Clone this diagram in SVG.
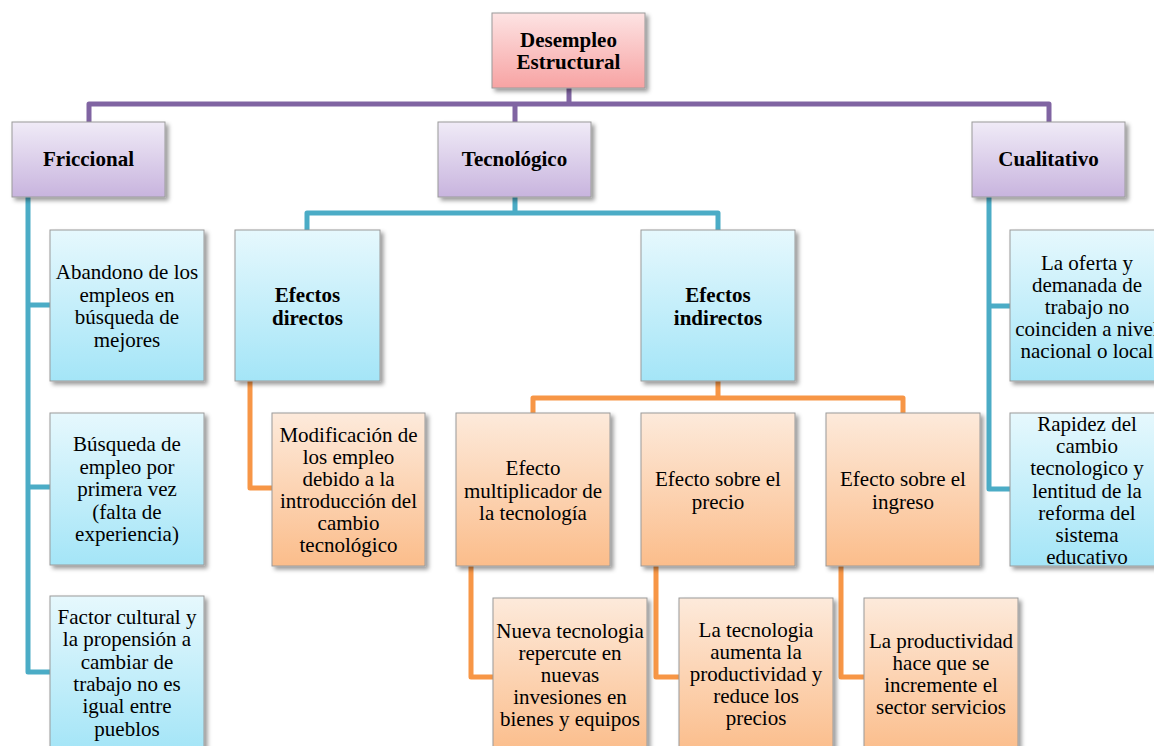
<svg xmlns="http://www.w3.org/2000/svg" width="1154" height="746" viewBox="0 0 1154 746">
<defs>
<linearGradient id="gPink" x1="0" y1="0" x2="0" y2="1"><stop offset="0" stop-color="#fde3e3"/><stop offset="1" stop-color="#f7a3a3"/></linearGradient>
<linearGradient id="gPurple" x1="0" y1="0" x2="0" y2="1"><stop offset="0" stop-color="#f0ebf7"/><stop offset="1" stop-color="#c8b4de"/></linearGradient>
<linearGradient id="gBlue" x1="0" y1="0" x2="0" y2="1"><stop offset="0" stop-color="#e6f8fd"/><stop offset="1" stop-color="#a4e5f7"/></linearGradient>
<linearGradient id="gOrange" x1="0" y1="0" x2="0" y2="1"><stop offset="0" stop-color="#fdeadb"/><stop offset="1" stop-color="#fbbd8b"/></linearGradient>
<filter id="sh" x="-10%" y="-10%" width="125%" height="125%"><feDropShadow dx="3" dy="3" stdDeviation="2" flood-color="#000" flood-opacity="0.4"/></filter>
</defs>
<style>
.box{stroke:#9a9a9a;stroke-width:1;filter:url(#sh)}
.pink{fill:url(#gPink)}.purple{fill:url(#gPurple)}.blue{fill:url(#gBlue)}.orange{fill:url(#gOrange)}
.c{fill:none;stroke-width:5;stroke-linejoin:round;stroke-linecap:butt}
.cp{stroke:#8064a2}.cb{stroke:#4bacc6}.co{stroke:#f79646}
text{font-family:"Liberation Serif","Times New Roman",serif;font-size:21px;fill:#000;text-anchor:middle}
.b{font-weight:bold}
</style>
<g id="connectors">
<path class="c cp" d="M569,88 V104 M89,122 V104 H1049 V122 M515,104 V122"/>
<path class="c cb" d="M515,197 V213 M307,230 V213 H718 V230"/>
<path class="c cb" d="M28,197 V672 H50 M28,305 H50 M28,487 H50"/>
<path class="c cb" d="M989,197 V489 H1010 M989,306 H1010"/>
<path class="c co" d="M250,381 V488 H272"/>
<path class="c co" d="M718,381 V398 M533,413 V398 H903 V413"/>
<path class="c co" d="M471,566 V677 H493 M656,566 V677 H679 M841,566 V677 H864"/>
</g>
<g id="root"><rect class="box pink" x="492" y="13" width="153" height="75"/><text class="b" x="568.5" y="47">Desempleo</text><text class="b" x="568.5" y="69">Estructural</text></g>
<g id="friccional"><rect class="box purple" x="12" y="122" width="153" height="75"/><text class="b" x="88.5" y="166">Friccional</text></g>
<g id="tecnologico"><rect class="box purple" x="438" y="122" width="153" height="75"/><text class="b" x="514.5" y="166">Tecnológico</text></g>
<g id="cualitativo"><rect class="box purple" x="972" y="122" width="153" height="75"/><text class="b" x="1048.5" y="166">Cualitativo</text></g>
<g id="abandono"><rect class="box blue" x="50" y="230" width="154" height="151"/><text x="127" y="279"><tspan x="127">Abandono de los</tspan><tspan x="127" dy="22.5">empleos en</tspan><tspan x="127" dy="22.5">búsqueda de</tspan><tspan x="127" dy="22.5">mejores</tspan></text></g>
<g id="busqueda"><rect class="box blue" x="50" y="413" width="154" height="152"/><text x="127" y="451"><tspan x="127">Búsqueda de</tspan><tspan x="127" dy="22.5">empleo por</tspan><tspan x="127" dy="22.5">primera vez</tspan><tspan x="127" dy="22.5">(falta de</tspan><tspan x="127" dy="22.5">experiencia)</tspan></text></g>
<g id="factor"><rect class="box blue" x="50" y="596" width="154" height="155"/><text x="127" y="624"><tspan x="127">Factor cultural y</tspan><tspan x="127" dy="22.3">la propensión a</tspan><tspan x="127" dy="22.3">cambiar de</tspan><tspan x="127" dy="22.3">trabajo no es</tspan><tspan x="127" dy="22.3">igual entre</tspan><tspan x="127" dy="22.3">pueblos</tspan></text></g>
<g id="directos"><rect class="box blue" x="235" y="230" width="145" height="151"/><text class="b" x="307.5" y="302"><tspan x="307.5">Efectos</tspan><tspan x="307.5" dy="23">directos</tspan></text></g>
<g id="indirectos"><rect class="box blue" x="641" y="230" width="154" height="151"/><text class="b" x="718" y="302"><tspan x="718">Efectos</tspan><tspan x="718" dy="23">indirectos</tspan></text></g>
<g id="modificacion"><rect class="box orange" x="272" y="413" width="153" height="153"/><text x="348.5" y="442"><tspan x="348.5">Modificación de</tspan><tspan x="348.5" dy="22">los empleo</tspan><tspan x="348.5" dy="22">debido a la</tspan><tspan x="348.5" dy="22">introducción del</tspan><tspan x="348.5" dy="22">cambio</tspan><tspan x="348.5" dy="22">tecnológico</tspan></text></g>
<g id="multiplicador"><rect class="box orange" x="456" y="413" width="154" height="153"/><text x="533" y="475"><tspan x="533">Efecto</tspan><tspan x="533" dy="22.5">multiplicador de</tspan><tspan x="533" dy="22.5">la tecnología</tspan></text></g>
<g id="precio"><rect class="box orange" x="641" y="413" width="154" height="153"/><text x="718" y="486"><tspan x="718">Efecto sobre el</tspan><tspan x="718" dy="22.5">precio</tspan></text></g>
<g id="ingreso"><rect class="box orange" x="826" y="413" width="154" height="153"/><text x="903" y="486"><tspan x="903">Efecto sobre el</tspan><tspan x="903" dy="22.5">ingreso</tspan></text></g>
<g id="oferta"><rect class="box blue" x="1010" y="230" width="154" height="151"/><text x="1087" y="270"><tspan x="1087">La oferta y</tspan><tspan x="1087" dy="22">demanada de</tspan><tspan x="1087" dy="22">trabajo no</tspan><tspan x="1087" dy="22">coinciden a nivel</tspan><tspan x="1087" dy="22">nacional o local</tspan></text></g>
<g id="rapidez"><rect class="box blue" x="1010" y="413" width="154" height="153"/><text x="1087" y="431"><tspan x="1087">Rapidez del</tspan><tspan x="1087" dy="22.2">cambio</tspan><tspan x="1087" dy="22.2">tecnologico y</tspan><tspan x="1087" dy="22.2">lentitud de la</tspan><tspan x="1087" dy="22.2">reforma del</tspan><tspan x="1087" dy="22.2">sistema</tspan><tspan x="1087" dy="22.2">educativo</tspan></text></g>
<g id="nueva"><rect class="box orange" x="493" y="598" width="154" height="155"/><text x="570" y="638"><tspan x="570">Nueva tecnologia</tspan><tspan x="570" dy="22">repercute en</tspan><tspan x="570" dy="22">nuevas</tspan><tspan x="570" dy="22">invesiones en</tspan><tspan x="570" dy="22">bienes y equipos</tspan></text></g>
<g id="aumenta"><rect class="box orange" x="679" y="598" width="154" height="155"/><text x="756" y="637"><tspan x="756">La tecnologia</tspan><tspan x="756" dy="22">aumenta la</tspan><tspan x="756" dy="22">productividad y</tspan><tspan x="756" dy="22">reduce los</tspan><tspan x="756" dy="22">precios</tspan></text></g>
<g id="productividad"><rect class="box orange" x="864" y="598" width="154" height="155"/><text x="941" y="648"><tspan x="941">La productividad</tspan><tspan x="941" dy="22">hace que se</tspan><tspan x="941" dy="22">incremente el</tspan><tspan x="941" dy="22">sector servicios</tspan></text></g>
</svg>
